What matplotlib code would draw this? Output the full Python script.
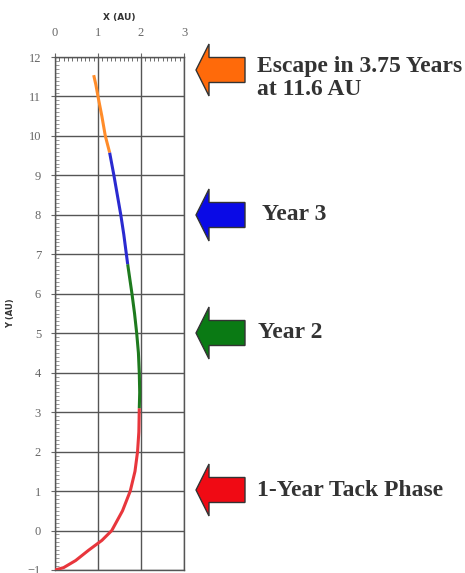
import matplotlib
matplotlib.use("Agg")
import matplotlib.pyplot as plt
from matplotlib.patches import FancyArrow
from matplotlib.ticker import MultipleLocator

# Trajectory segments (x in AU, y in AU)
red_x = [0.0, 0.2, 0.48, 0.78, 1.09, 1.32, 1.57, 1.75, 1.86, 1.92, 1.95, 1.96]
red_y = [-1.0, -0.94, -0.76, -0.5, -0.25, 0.0, 0.5, 1.0, 1.5, 2.0, 2.5, 3.1]
green_x = [1.96, 1.97, 1.96, 1.94, 1.90, 1.85, 1.79, 1.69]
green_y = [3.1, 3.5, 4.0, 4.5, 5.0, 5.5, 6.0, 6.75]
blue_x = [1.69, 1.66, 1.60, 1.53, 1.45, 1.37, 1.27]
blue_y = [6.75, 7.0, 7.5, 8.0, 8.5, 9.0, 9.58]
orange_x = [1.27, 1.17, 1.09, 1.0, 0.95, 0.9]
orange_y = [9.58, 10.0, 10.5, 11.0, 11.3, 11.54]

x_ticks = [0, 1, 2, 3]
y_ticks = list(range(-1, 13))

labels = ["Escape in 3.75 Years\nat 11.6 AU", "Year 3", "Year 2", "1-Year Tack Phase"]
arrow_colors = ["#ff6a0a", "#0a0ae6", "#0a7a14", "#f00a14"]
line_colors = ["#ff8c2a", "#2a2ad0", "#1e7a1e", "#e8363c"]

W, H = 465, 573
fig = plt.figure(figsize=(W / 100, H / 100), dpi=100)
fig.patch.set_facecolor("white")

ax = fig.add_axes([55 / W, 1 - 570 / H, 129 / W, 513 / H])
ax.set_xlim(0, 3)
ax.set_ylim(-1, 12)

lw = 2.2
ax.plot(red_x, red_y, color=line_colors[3], lw=lw, solid_capstyle="butt", zorder=3)
ax.plot(green_x, green_y, color=line_colors[2], lw=lw, solid_capstyle="butt", zorder=3)
ax.plot(blue_x, blue_y, color=line_colors[1], lw=lw, solid_capstyle="butt", zorder=3)
ax.plot(orange_x, orange_y, color=line_colors[0], lw=lw, solid_capstyle="butt", zorder=3)

ax.set_xticks(x_ticks)
ax.set_yticks(y_ticks)
ax.yaxis.set_minor_locator(MultipleLocator(0.1))
ax.xaxis.set_minor_locator(MultipleLocator(0.1))
ax.xaxis.tick_top()
ax.xaxis.set_label_position("top")
ax.tick_params(axis="both", which="major", labelsize=9, colors="#666666", length=3, width=0.8)
ax.tick_params(axis="y", which="major", pad=7)
ax.tick_params(axis="y", which="minor", direction="in", length=3, width=0.6, color="#888888", left=True)
ax.tick_params(axis="x", which="minor", direction="in", length=3, width=0.6, color="#555555", top=True, bottom=False)
ax.tick_params(axis="x", which="major", top=True, bottom=False, pad=10)
for lab in ax.get_xticklabels() + ax.get_yticklabels():
    lab.set_family("Liberation Serif")
ax.set_xlabel("X (AU)", fontsize=6.5, color="#333333", fontweight="bold", labelpad=5)
ax.set_ylabel("Y (AU)", fontsize=6, color="#333333", fontweight="bold", labelpad=14)
ax.yaxis.set_label_coords(-40 / 129, 0.5)

ax.grid(True, which="major", color="#555555", lw=1.0)
for s in ax.spines.values():
    s.set_color("#555555")
    s.set_linewidth(1.0)

# overlay for arrows and text in pixel coordinates
ov = fig.add_axes([0, 0, 1, 1])
ov.set_xlim(0, W)
ov.set_ylim(H, 0)
ov.axis("off")

centers = [70, 215, 333, 490]
for c, col in zip(centers, arrow_colors):
    ar = FancyArrow(245, c, -49, 0, width=25, head_width=52, head_length=13,
                    length_includes_head=True, facecolor=col, edgecolor="#333333", lw=1.0)
    ov.add_patch(ar)

text_x = [257, 262, 258, 257]
text_y = [78, 215, 333, 490]
for tx, ty, lab in zip(text_x, text_y, labels):
    ov.text(tx, ty, lab, fontsize=17, fontweight="bold", family="Liberation Serif",
            color="#333333", ha="left", va="center", linespacing=1.15)

fig.savefig("out.png", dpi=100, facecolor="white")
